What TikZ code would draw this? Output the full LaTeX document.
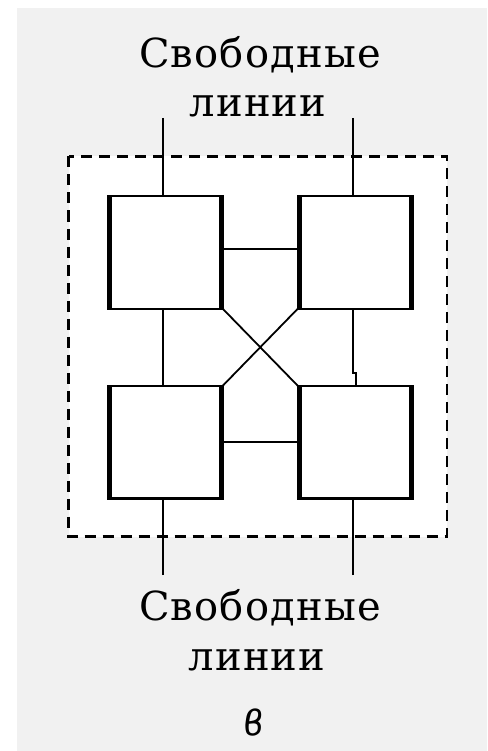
\documentclass[tikz,border=0pt]{standalone}
\usepackage{fontspec}
\setmainfont[LetterSpace=3]{DejaVu Serif}
\definecolor{bgGray}{RGB}{241,241,241}
\begin{document}
\begin{tikzpicture}[x=1pt,y=-1pt,
  box/.style={draw, line width=2.5pt, fill=white, minimum width=114.5pt, minimum height=112.5pt, inner sep=0pt, outer sep=0pt},
  wire/.style={line width=2pt},
  cross/.style={line width=1.8pt},
  frame/.style={line width=2.2pt, dash pattern=on 11pt off 7pt},
  lbl/.style={anchor=base, inner sep=0pt, font=\fontsize{40}{48}\selectfont}]
\fill[white] (0,0) rectangle (487,751);
\fill[bgGray] (17,8) rectangle (487,751);
\useasboundingbox (0,0) rectangle (487,751);
\draw[frame, fill=white] (68.5,156.5) rectangle (447,536.5);
\node[box] (tl) at (165.5,252.5) {};
\node[box] (tr) at (355,252.5) {};
\node[box] (bl) at (165.5,442) {};
\node[box] (br) at (355,442) {};
\foreach \b in {tl,tr,bl,br} {
  \draw[line width=5pt] ([xshift=1.25pt]\b.north west) -- ([xshift=1.25pt]\b.south west);
  \draw[line width=5pt] ([xshift=-1.25pt]\b.north east) -- ([xshift=-1.25pt]\b.south east);
}
\coordinate (a1) at (163.3,118);
\coordinate (a2) at (353.3,118);
\coordinate (z1) at (163.3,575);
\coordinate (z2) at (353.3,575);
\coordinate (j) at (353.3,373);
\draw[wire] (a1) -- (a1 |- tl.north);
\draw[wire] (a2) -- (a2 |- tr.north);
\draw[wire] (z1) -- (z1 |- bl.south);
\draw[wire] (z2) -- (z2 |- br.south);
\draw[wire] (a1 |- tl.south) -- (a1 |- bl.north);
\draw[wire] (a2 |- tr.south) -- (j) -- ++(3,0) coordinate (j2) -- (j2 |- br.north);
\draw[wire] (tl.east |- 0,249) -- (tr.west |- 0,249);
\draw[wire] (bl.east) -- (br.west);
\draw[cross] (tl.south east) -- (br.north west);
\draw[cross] (tr.south west) -- (bl.north east);
\node[lbl] (top1) at (260,68) {Свободные};
\node[lbl] (top2) at (258,117) {линии};
\node[lbl] (bot1) at (260,620) {Свободные};
\node[lbl] (bot2) at (257,670) {линии};
\node[lbl] (lab) at (254,735) {\scalebox{0.8}[1.25]{\itshape в}};
\end{tikzpicture}
\end{document}
